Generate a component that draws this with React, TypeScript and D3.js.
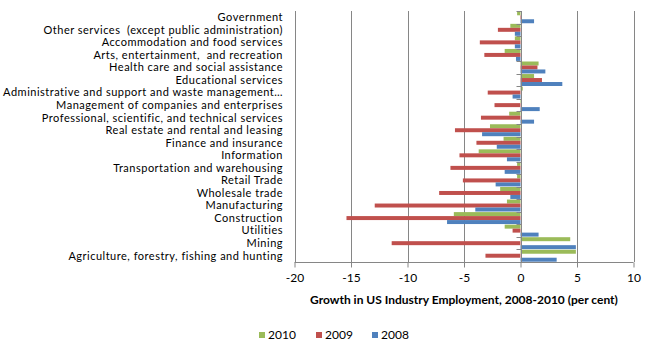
import React, { useEffect, useRef } from "react";
import * as d3 from "d3";

// categories listed top to bottom as they appear on the chart
const categories = [
  "Government",
  "Other services  (except public administration)",
  "Accommodation and food services",
  "Arts, entertainment,  and recreation",
  "Health care and social assistance",
  "Educational services",
  "Administrative and support and waste management\u2026",
  "Management of companies and enterprises",
  "Professional, scientific, and technical services",
  "Real estate and rental and leasing",
  "Finance and insurance",
  "Information",
  "Transportation and warehousing",
  "Retail Trade",
  "Wholesale trade",
  "Manufacturing",
  "Construction",
  "Utilities",
  "Mining",
  "Agriculture, forestry, fishing and hunting",
];

const growth2010 = [-0.3, -0.9, -0.5, -1.4, 1.6, 1.2, 0.2, 0.1, -1.0, -2.7, -1.5, -3.7, -0.3, -0.3, -1.8, -1.2, -5.9, -1.4, 4.4, 4.9];
const growth2009 = [0.1, -2.0, -3.6, -3.2, 1.5, 1.9, -2.9, -2.3, -3.5, -5.8, -3.9, -5.4, -6.2, -5.1, -7.2, -12.9, -15.4, -0.7, -11.4, -3.1];
const growth2008 = [1.2, -0.5, -0.5, -0.4, 2.2, 3.7, -0.7, 1.7, 1.2, -3.4, -2.1, -1.2, -1.4, -2.2, -0.9, -4.0, -6.5, 1.6, 4.9, 3.2];

const seriesNames = ["2010", "2009", "2008"];
const xTicks = [-20, -15, -10, -5, 0, 5, 10];
const axisTitle = "Growth in US Industry Employment, 2008-2010 (per cent)";

const colors: Record<string, string> = {
  "2010": "#9BBB59",
  "2009": "#C0504D",
  "2008": "#4F81BD",
};

const W = 652;
const H = 350;
const FONT = "Lato, 'Open Sans', sans-serif";
const FS = 12;

export default function App() {
  const ref = useRef<SVGSVGElement>(null);

  useEffect(() => {
    const svg = d3.select(ref.current);
    svg.selectAll("*").remove();

    const series = [
      { name: "2010", values: growth2010 },
      { name: "2009", values: growth2009 },
      { name: "2008", values: growth2008 },
    ];

    const x = d3.scaleLinear().domain([-20, 10]).range([294.5, 633.5]);
    const y = d3.scaleBand<string>().domain(categories).range([11, 262]);
    const inner = d3
      .scaleBand<string>()
      .domain(seriesNames)
      .range([0.3, y.bandwidth() - 0.3]);

    const grid = "#868686";

    // vertical gridlines
    svg
      .append("g")
      .selectAll("line")
      .data(xTicks)
      .join("line")
      .attr("x1", (d) => Math.round(x(d)) + 0.5)
      .attr("x2", (d) => Math.round(x(d)) + 0.5)
      .attr("y1", 11)
      .attr("y2", 262)
      .attr("stroke", grid)
      .attr("stroke-width", 1);

    // bars
    series.forEach((s) => {
      svg
        .append("g")
        .selectAll("rect")
        .data(s.values)
        .join("rect")
        .attr("x", (d) => x(Math.min(0, d)))
        .attr("width", (d) => Math.abs(x(d) - x(0)))
        .attr("y", (d, i) => (y(categories[i]) as number) + (inner(s.name) as number))
        .attr("height", inner.bandwidth())
        .attr("fill", colors[s.name]);
    });

    // category axis at zero
    const x0 = Math.round(x(0)) + 0.5;
    svg
      .append("line")
      .attr("x1", x0)
      .attr("x2", x0)
      .attr("y1", 11)
      .attr("y2", 262)
      .attr("stroke", grid);
    const bounds = categories.map((c) => y(c) as number).concat([262]);
    svg
      .append("g")
      .selectAll("line")
      .data(bounds)
      .join("line")
      .attr("x1", x0 - 5)
      .attr("x2", x0)
      .attr("y1", (d) => Math.round(d) + 0.5)
      .attr("y2", (d) => Math.round(d) + 0.5)
      .attr("stroke", grid);

    // category labels
    svg
      .append("g")
      .selectAll("text")
      .data(categories)
      .join("text")
      .attr("x", 283)
      .attr("y", (d) => (y(d) as number) + y.bandwidth() / 2)
      .attr("dy", "0.35em")
      .attr("text-anchor", "end")
      .attr("font-family", FONT)
      .attr("font-size", 11)
      .attr("letter-spacing", 0.5)
      .attr("fill", "#000")
      .style("white-space", "pre")
      .text((d) => d);

    // value axis at bottom
    const xAxis = d3
      .axisBottom(x)
      .tickValues(xTicks)
      .tickSize(5)
      .tickFormat((d) => String(d));
    const gx = svg.append("g").attr("transform", "translate(0,262.5)").call(xAxis);
    gx.select(".domain").attr("stroke", grid).attr("d", `M${x(-20)},0H${x(10)}`);
    gx.selectAll(".tick line").attr("stroke", grid);
    gx.selectAll(".tick text")
      .attr("font-family", FONT)
      .attr("font-size", FS)
      .attr("fill", "#000")
      .attr("y", 11);

    svg
      .append("text")
      .attr("x", (x(-20) + x(10)) / 2)
      .attr("y", 304)
      .attr("text-anchor", "middle")
      .attr("font-family", FONT)
      .attr("font-size", FS)
      .attr("font-weight", "bold")
      .attr("fill", "#000")
      .text(axisTitle);

    // legend
    const legendX = [259, 316, 372];
    const lg = svg
      .append("g")
      .selectAll("g")
      .data(seriesNames)
      .join("g")
      .attr("transform", (d, i) => `translate(${legendX[i]},332)`);
    lg.append("rect")
      .attr("width", 6)
      .attr("height", 6)
      .attr("fill", (d) => colors[d]);
    lg.append("text")
      .attr("x", 9)
      .attr("y", 3)
      .attr("dy", "0.35em")
      .attr("font-family", FONT)
      .attr("font-size", FS)
      .attr("fill", "#000")
      .text((d) => d);
  }, []);

  return (
    <svg
      ref={ref}
      width={W}
      height={H}
      style={{ position: "absolute", left: 0, top: 0, background: "#fff" }}
    />
  );
}
